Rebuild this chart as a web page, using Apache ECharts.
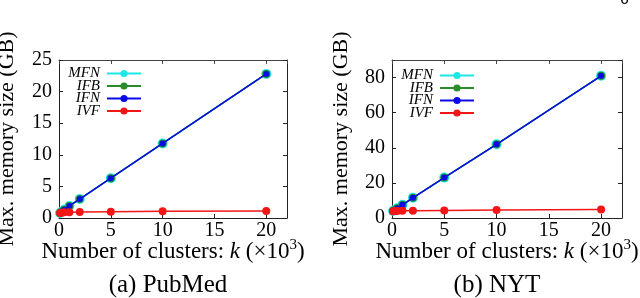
<!DOCTYPE html>
<html><head><meta charset="utf-8">
<script src="https://cdn.jsdelivr.net/npm/echarts@6/dist/echarts.min.js"></script>
<style>html,body{margin:0;padding:0;background:#fff}#c{width:640px;height:298px}</style>
</head><body><div id="c"></div>
<script>
const kValues = [0.1, 0.25, 0.5, 1, 2, 5, 10, 20];
const pubmedMFN = [0.8, 1.0, 1.3, 1.9, 3.0, 6.3, 11.8, 22.8];
const pubmedIFB = [0.8, 1.0, 1.3, 1.9, 3.0, 6.3, 11.8, 22.8];
const pubmedIFN = [0.8, 1.0, 1.3, 1.9, 3.0, 6.3, 11.8, 22.8];
const pubmedIVF = [0.8, 0.85, 0.9, 0.9, 0.95, 1.0, 1.05, 1.1];
const nytMFN = [4.0, 4.6, 5.6, 7.5, 11.5, 23.0, 42.0, 81.0];
const nytIFB = [4.0, 4.6, 5.6, 7.5, 11.5, 23.0, 42.0, 81.0];
const nytIFN = [4.0, 4.6, 5.6, 7.5, 11.5, 23.0, 42.0, 81.0];
const nytIVF = [3.9, 4.0, 4.0, 4.1, 4.2, 4.3, 4.5, 4.8];
const xTicks = [0, 5, 10, 15, 20];
const seriesNames = ['MFN', 'IFB', 'IFN', 'IVF'];
const captions = ['(a) PubMed', '(b) NYT'];

const serif = '"Liberation Serif", "DejaVu Serif", serif';
const colors = {MFN: '#1ee6e6', IFB: '#2a8c2a', IFN: '#0a0ae6', IVF: '#f21616'};
const sizes = {MFN: 10, IFB: 8, IFN: 6, IVF: 8};

function pairs(ys) { return kValues.map((k, i) => [k, ys[i]]); }

const chart = echarts.init(document.getElementById('c'), null, {renderer: 'canvas'});

const grids = [
  {left: 59, top: 60, width: 228, height: 158},
  {left: 392, top: 60, width: 230, height: 158}
];
const yMax = [25, 90];
const yInt = [5, 20];

const xAxes = [], yAxes = [];
[0, 1].forEach(g => {
  xAxes.push({
    type: 'value', gridIndex: g, min: 0, max: 22, interval: 5,
    name: 'Number of clusters: {i|k} (×10{sup|3})', nameLocation: 'middle', nameGap: 20,
    nameMoveOverlap: false,
    nameTextStyle: {fontFamily: serif, fontSize: 23, color: '#000',
      rich: {i: {fontFamily: serif, fontStyle: 'italic', fontSize: 23, color: '#000'},
             sup: {fontFamily: serif, fontSize: 15, color: '#000', verticalAlign: 'top', padding: [0, 0, 12, 0]}}},
    axisLine: {show: true, onZero: false, lineStyle: {color: '#222', width: 1}},
    axisTick: {show: true, inside: true, length: 4, lineStyle: {color: '#222'}},
    axisLabel: {fontFamily: serif, fontSize: 20, color: '#000', margin: 3, showMaxLabel: false,
      formatter: v => xTicks.includes(v) ? String(v) : ''},
    splitLine: {show: false}
  });
  xAxes.push({
    type: 'value', gridIndex: g, min: 0, max: 22, interval: 5, position: 'top',
    axisLine: {show: true, onZero: false, lineStyle: {color: '#444', width: 1}},
    axisTick: {show: true, inside: true, length: 4, lineStyle: {color: '#444'}},
    axisLabel: {show: false}, splitLine: {show: false}
  });
  yAxes.push({
    type: 'value', gridIndex: g, min: 0, max: yMax[g], interval: yInt[g],
    name: 'Max. memory size (GB)', nameLocation: 'middle', nameGap: g === 0 ? 41 : 40,
    nameMoveOverlap: false,
    nameTextStyle: {fontFamily: serif, fontSize: 22, color: '#000'},
    axisLine: {show: true, onZero: false, lineStyle: {color: '#222', width: 1}},
    axisTick: {show: true, inside: true, length: 4, lineStyle: {color: '#222'}},
    axisLabel: {fontFamily: serif, fontSize: 20, color: '#000', margin: 7,
      showMaxLabel: g === 0},
    splitLine: {show: false}
  });
  yAxes.push({
    type: 'value', gridIndex: g, min: 0, max: yMax[g], interval: yInt[g], position: 'right',
    axisLine: {show: true, onZero: false, lineStyle: {color: '#222', width: 1}},
    axisTick: {show: true, inside: true, length: 4, lineStyle: {color: '#222'}},
    axisLabel: {show: false}, splitLine: {show: false}
  });
});

const dataSets = [
  {MFN: pubmedMFN, IFB: pubmedIFB, IFN: pubmedIFN, IVF: pubmedIVF},
  {MFN: nytMFN, IFB: nytIFB, IFN: nytIFN, IVF: nytIVF}
];
const series = [];
[0, 1].forEach(g => {
  seriesNames.forEach((n, j) => {
    series.push({
      name: n + (g === 1 ? ' ' : ''), type: 'line', xAxisIndex: g * 2, yAxisIndex: g * 2,
      data: pairs(dataSets[g][n]), symbol: 'circle', symbolSize: sizes[n],
      itemStyle: {color: colors[n]}, lineStyle: {color: colors[n], width: 1.5},
      z: 2 + j, animation: false
    });
  });
});

const legends = [[62, 66], [395, 68]].map((p, g) => ({
  left: p[0], top: p[1], orient: 'vertical', align: 'right',
  itemWidth: 34, itemHeight: 9, itemGap: -2.5, padding: 0,
  data: seriesNames.map(n => n + (g === 1 ? ' ' : '')),
  formatter: s => s.trim(),
  textStyle: {fontFamily: serif, fontStyle: 'italic', fontSize: 15, lineHeight: 12.7, color: '#000', width: 38, align: 'right', padding: [0, 2, 0, 0]}
}));

chart.setOption({
  animation: false,
  grid: grids.map(g => Object.assign({show: false, containLabel: false, outerBoundsMode: 'none'}, g)),
  xAxis: xAxes, yAxis: yAxes, series: series, legend: legends,
  title: [
    {text: captions[0], left: 168, top: 273, textAlign: 'center', padding: 0,
      textStyle: {fontFamily: serif, fontSize: 25, fontWeight: 'normal', color: '#000'}},
    {text: captions[1], left: 497, top: 273, textAlign: 'center', padding: 0,
      textStyle: {fontFamily: serif, fontSize: 25, fontWeight: 'normal', color: '#000'}}
  ],
  graphic: [{type: 'text', left: 620, top: -7, style: {text: '6', fontFamily: '"DejaVu Sans", sans-serif', fontSize: 14, fill: '#000'}}]
});
</script></body></html>
